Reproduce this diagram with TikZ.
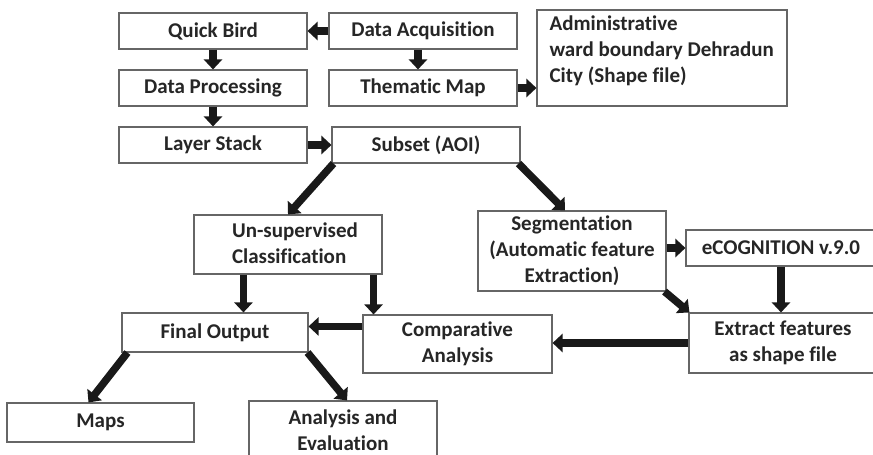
\documentclass[tikz,border=0pt]{standalone}
\usepackage{fontspec}
\setmainfont{Carlito}[Ligatures=NoCommon]
\usetikzlibrary{arrows.meta,calc}
\tikzset{
  box/.style={draw=black!60, line width=1.1pt, fill=white, inner sep=2pt,
    font=\fontsize{21}{26}\selectfont\bfseries, text=black!85, align=center},
  blk/.style={line width=7.5pt, draw=black!90, -{Triangle[width=18pt,length=10pt]}},
}
\begin{document}
\begin{tikzpicture}[x=1pt,y=-1pt]
\useasboundingbox (0,0) rectangle (873,455);
\clip (0,0) rectangle (873,455);
% top rows
\node[box, minimum width=188pt, minimum height=36pt] (qb) at (213,31) {Quick Bird};
\node[box, minimum width=188pt, minimum height=36pt] (da) at (423,31) {Data Acquisition};
\node[box, minimum width=250pt, minimum height=96pt] (adm) at (662,58) {};
\node[box, draw=none, fill=none, align=left, anchor=north west] (admt) at (547,13) {Administrative\\ward boundary Dehradun\\City (Shape file)};
\node[box, minimum width=188pt, minimum height=36pt] (dp) at (213,88) {Data Processing};
\node[box, minimum width=188pt, minimum height=36pt] (tm) at (423,88) {Thematic Map};
\node[box, minimum width=188pt, minimum height=36pt] (ls) at (213,145) {Layer Stack};
\node[box, minimum width=188pt, minimum height=36pt] (ss) at (426,145) {Subset (AOI)};
% middle
\node[box, minimum width=188pt, minimum height=59pt] (us) at (288,244.5) {};
\node[box, draw=none, fill=none, align=left] (ust) at (295,243) {Un-supervised\\Classification};
\node[box, minimum width=188pt, minimum height=80pt] (seg) at (572,251) {Segmentation\\(Automatic feature\\Extraction)};
\node[box, minimum width=190pt, minimum height=36pt] (ec) at (781,248) {eCOGNITION v.9.0};
% lower
\node[box, minimum width=186pt, minimum height=39pt] (fo) at (215,332.5) {Final Output};
\node[box, minimum width=189pt, minimum height=58pt] (ca) at (457.5,344) {Comparative\\Analysis};
\node[box, minimum width=188pt, minimum height=60pt] (ext) at (783,343) {Extract features\\as shape file};
\node[box, minimum width=187pt, minimum height=39pt] (maps) at (100.5,422.5) {Maps};
\node[box, minimum width=188pt, minimum height=62pt, text depth=0pt] (ae) at (343,432) {};
\node[box, draw=none, fill=none] (aet) at (343,430) {Analysis and\\Evaluation};
% arrows
\draw[blk] (da.west) -- (qb.east);
\draw[blk] (qb.south) -- (dp.north);
\draw[blk] (dp.south) -- (ls.north);
\draw[blk] ([xshift=-5pt]da.south) -- ([xshift=-5pt]da.south |- tm.north);
\draw[blk] (tm.east) -- (tm.east -| adm.west);
\draw[blk] (ls.east) -- (ss.west);
\draw[blk] ([xshift=2pt]ss.south west) -- (us.north);
\draw[blk] ([xshift=-2pt]ss.south east) -- ([xshift=-7pt]seg.north);
\draw[blk] (seg.east |- ec.west) -- (ec.west);
\draw[blk] (ec.south) -- (ec.south |- ext.north);
\draw[blk] ([xshift=-2pt]seg.south east) -- ([xshift=1pt]ext.north west);
\draw[blk] (ext.west) -- (ext.west -| ca.east);
\draw[blk] ([xshift=50pt]us.south west) -- ([xshift=50pt]us.south west |- fo.north);
\draw[blk] ([xshift=-9pt]us.south east) -- ([xshift=-9pt]us.south east |- ca.north);
\draw[blk] ([yshift=-12pt]ca.north west) -- ([yshift=-12pt]ca.north west -| fo.east);
\draw[blk] ([xshift=6pt]fo.south west) -- ([xshift=-12pt]maps.north);
\draw[blk] ([xshift=-1pt]fo.south east) -- ([xshift=4pt]ae.north);
\end{tikzpicture}
\end{document}
